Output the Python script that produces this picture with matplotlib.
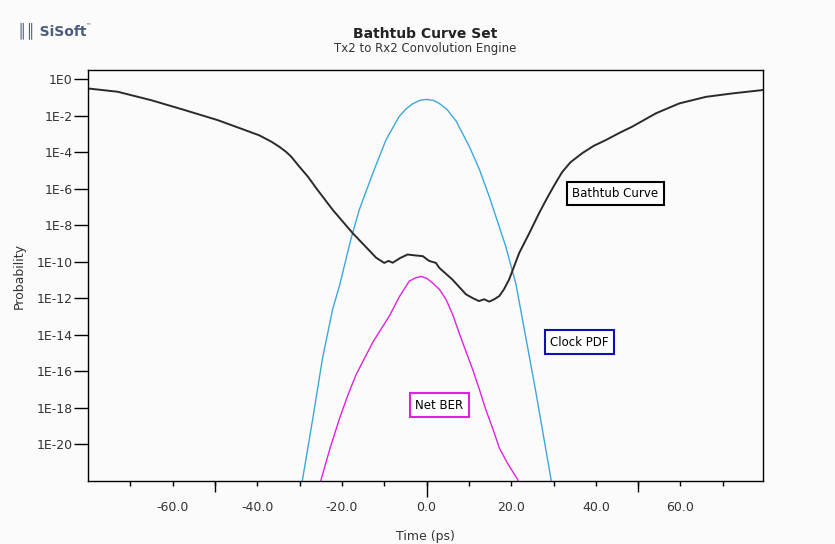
"""Bathtub curve set: Tx2 to Rx2 convolution engine."""

import matplotlib
import numpy as np

matplotlib.use("Agg")
import matplotlib.pyplot as plt
from matplotlib.ticker import FixedLocator, FuncFormatter, NullFormatter

# Werte (Zeit in ps, log10 der Wahrscheinlichkeit)
bathtub_t = [-80.0, -73.0, -65.1, -57.2, -49.4, -43.0, -39.5, -36.7, -34.8, -33.2,
             -32.0, -30.1, -28.0, -26.1, -22.2, -17.5, -14.7, -11.9, -10.0, -9.0,
             -8.0, -6.3, -4.5, -2.7, -0.9, 0.6, 2.2, 3.0, 6.1, 9.3, 11.0, 12.4,
             13.6, 14.8, 16.0, 17.2, 18.3, 19.5, 21.9, 24.3, 26.6, 28.5, 30.2, 32.0,
             34.0, 36.8, 39.5, 42.4, 45.5, 48.6, 54.2, 59.7, 66.0, 72.3, 79.3]
bathtub_log = [-0.51, -0.69, -1.15, -1.69, -2.24, -2.78, -3.08, -3.42, -3.7, -3.98,
               -4.24, -4.78, -5.35, -5.96, -7.15, -8.42, -9.1, -9.78, -10.06, -9.95,
               -10.05, -9.8, -9.6, -9.65, -9.69, -9.95, -10.06, -10.33, -10.97, -11.78,
               -12.0, -12.15, -12.05, -12.18, -12.05, -11.87, -11.5, -10.97, -9.51, -8.42,
               -7.33, -6.5, -5.8, -5.1, -4.55, -4.05, -3.65, -3.33, -2.95, -2.6,
               -1.87, -1.33, -0.97, -0.78, -0.6]

clock_t = [-30.5, -29.3, -26.9, -24.6, -22.2, -20.6, -17.9, -15.9, -12.7, -9.6,
           -6.5, -4.8, -3.3, -1.6, 0.0, 1.6, 3.0, 4.8, 7.0, 10.1, 12.5, 14.8, 18.7,
           21.1, 22.7, 25.8, 29.4, 30.5]
clock_log = [-23.5, -21.9, -18.6, -15.3, -12.6, -11.33, -8.78, -7.15, -5.15, -3.33,
             -2.05, -1.62, -1.35, -1.16, -1.11, -1.16, -1.33, -1.65, -2.3, -3.69,
             -4.95, -6.42, -9.15, -11.2, -13.2, -17.1, -21.9, -23.5]

ber_t = [-26.0, -24.9, -22.8, -20.6, -18.6, -16.7, -14.7, -12.7, -10.8, -8.8,
         -6.4, -4.1, -2.6, -1.3, 0.0, 1.4, 3.0, 4.6, 6.2, 7.7, 9.3, 10.9, 12.5,
         14.0, 15.6, 17.2, 19.3, 21.5, 22.5]
ber_log = [-23.0, -21.9, -20.2, -18.6, -17.3, -16.2, -15.3, -14.4, -13.7, -12.97,
           -11.9, -11.06, -10.88, -10.8, -10.9, -11.15, -11.5, -12.06, -12.9, -13.9,
           -14.9, -15.9, -17.0, -18.1, -19.1, -20.2, -21.1, -21.9, -23.0]

y_exponenten = list(range(0, -21, -2))
x_beschriftet = [-60, -40, -20, 0, 20, 40, 60]
x_kurz = [-70, -50, -30, -10, 10, 30, 50, 70]
x_lang = [-50, 50]

hintergrund = "#fbfbfb"
textfarbe = "#333333"
plt.rcParams["font.family"] = "DejaVu Sans"

fig = plt.figure(figsize=(8.35, 5.44), dpi=100, facecolor=hintergrund)
ax = fig.add_axes([0.1054, 0.1158, 0.8084, 0.7555])
ax.set_facecolor(hintergrund)

ax.plot(clock_t, 10.0 ** np.array(clock_log), color="#3da7dc", lw=1.0)
ax.plot(ber_t, 10.0 ** np.array(ber_log), color="#e021e0", lw=1.0)
ax.plot(bathtub_t, 10.0 ** np.array(bathtub_log), color="#2a2a2a", lw=1.4)

ax.set_yscale("log")
ax.set_xlim(-80, 79.5)
ax.set_ylim(1e-22, 10 ** 0.5)

ax.yaxis.set_major_locator(FixedLocator([10.0 ** e for e in y_exponenten]))
ax.yaxis.set_minor_locator(FixedLocator([]))
ax.yaxis.set_major_formatter(FuncFormatter(lambda v, p: f"1E{int(round(np.log10(v)))}"))
ax.tick_params(axis="y", direction="out", length=10, width=1, pad=1,
               labelsize=9, labelcolor=textfarbe)

ax.xaxis.set_major_locator(FixedLocator(x_beschriftet))
ax.xaxis.set_major_formatter(FuncFormatter(lambda v, p: f"{v:.1f}"))
ax.xaxis.set_minor_locator(FixedLocator(x_kurz))
ax.tick_params(axis="x", which="major", direction="out", length=3.6, width=1, pad=11,
               labelsize=9, labelcolor=textfarbe)
ax.tick_params(axis="x", which="minor", direction="out", length=3.6, width=1)

# laengere Striche bei -50/50 und bei 0
for laenge, orte in ((8, x_lang), (11.5, [0])):
    sek = ax.secondary_xaxis("bottom")
    sek.set_xticks(orte)
    sek.xaxis.set_major_formatter(NullFormatter())
    sek.tick_params(axis="x", direction="out", length=laenge, width=1)
    sek.spines["bottom"].set_visible(False)

for spine in ax.spines.values():
    spine.set_linewidth(1.0)
    spine.set_color("black")

ax.set_xlabel("Time (ps)", fontsize=9, color=textfarbe, labelpad=11)
ax.set_ylabel("Probability", fontsize=9, color=textfarbe, labelpad=8)

fig.text(0.509, 0.937, "Bathtub Curve Set", ha="center", va="center",
         fontsize=10, fontweight="bold", color="#222222")
fig.text(0.509, 0.911, "Tx2 to Rx2 Convolution Engine", ha="center", va="center",
         fontsize=8.5, color=textfarbe)

# Logo
fig.text(0.021, 0.943, "\u2551\u2551 SiSoft", ha="left", va="center", fontsize=10,
         fontweight="bold", color="#4a5b80")
fig.text(0.102, 0.952, "\u2122", ha="left", va="center", fontsize=4, color="#4a5b80")

# Beschriftungsboxen
ax.text(44.6, 10 ** -6.27, "Bathtub Curve", ha="center", va="center", fontsize=8.5,
        bbox=dict(boxstyle="square,pad=0.45", fc="white", ec="black", lw=1.5))
ax.text(36.1, 10 ** -14.4, "Clock PDF", ha="center", va="center", fontsize=8.5,
        bbox=dict(boxstyle="square,pad=0.45", fc="white", ec="#1010b8", lw=1.5))
ax.text(3.0, 10 ** -17.84, "Net BER", ha="center", va="center", fontsize=8.5,
        bbox=dict(boxstyle="square,pad=0.45", fc="white", ec="#e021e0", lw=1.5))

fig.savefig("out.png", dpi=100, facecolor=hintergrund)
